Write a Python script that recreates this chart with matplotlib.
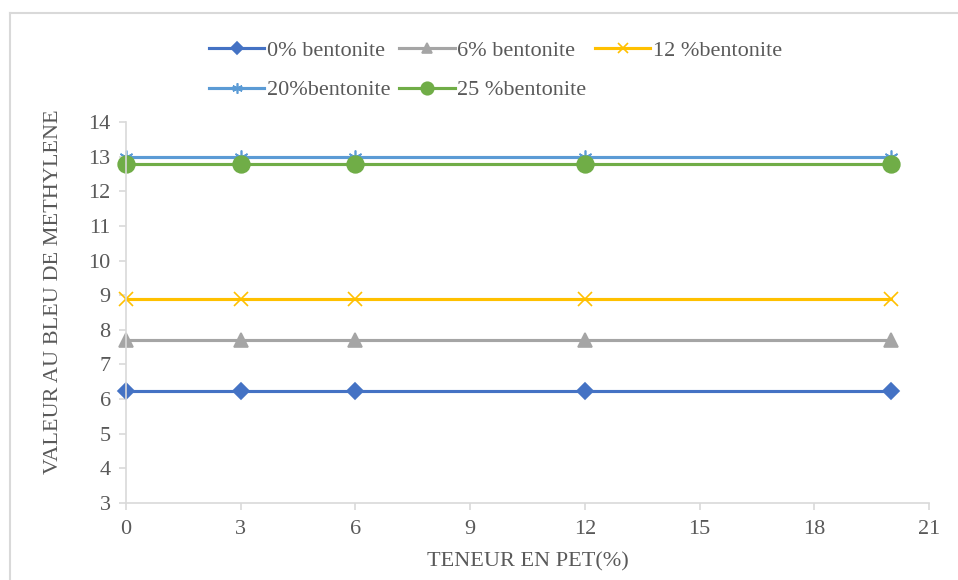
import matplotlib
matplotlib.use("Agg")
import matplotlib.pyplot as plt
from matplotlib.lines import Line2D

# data
pet = [0, 3, 6, 12, 20]
labels = ["0% bentonite", "6% bentonite", "12 %bentonite", "20%bentonite", "25 %bentonite"]
vals_0 = [6.22, 6.22, 6.22, 6.22, 6.22]
vals_6 = [7.7, 7.7, 7.7, 7.7, 7.7]
vals_12 = [8.9, 8.9, 8.9, 8.9, 8.9]
vals_20 = [13.0, 13.0, 13.0, 13.0, 13.0]
vals_25 = [12.8, 12.8, 12.8, 12.8, 12.8]

plt.rcParams['font.family'] = ['Liberation Serif', 'DejaVu Serif']

fig = plt.figure(figsize=(9.58, 5.8), dpi=100)
ax = fig.add_axes([0.1315, 0.1328, 0.8382, 0.6569])

txt = "#595959"
styles = [
    (vals_0, "#4472C4", "D", 8),
    (vals_6, "#A5A5A5", "^", 10),
    (vals_12, "#FFC000", "x", 10),
    (vals_20, "#5B9BD5", (6, 2, 0), 10),
    (vals_25, "#70AD47", "o", 12),
]
handles = []
for (vals, col, mk, ms), lab in zip(styles, labels):
    line, = ax.plot(pet, vals, color=col, lw=2.25, marker=mk, markersize=ms,
                    markeredgewidth=1.2, markeredgecolor=col, label=lab,
                    clip_on=False)
    handles.append(line)

ax.set_xlim(0, 21)
ax.set_ylim(3, 14)
ax.set_xticks(range(0, 22, 3))
ax.set_yticks(range(3, 15))
for s in ["top", "right"]:
    ax.spines[s].set_visible(False)
for s in ["left", "bottom"]:
    ax.spines[s].set_color("#D9D9D9")
    ax.spines[s].set_linewidth(1.2)
ax.tick_params(colors="#D9D9D9", labelcolor=txt, labelsize=16, length=5, width=1.2)
ax.tick_params(axis="x", pad=7)
ax.tick_params(axis="y", pad=6)
ax.set_xlabel("TENEUR EN PET(%)", fontsize=16, color=txt, labelpad=10)
ax.set_ylabel("VALEUR AU BLEU DE METHYLENE", fontsize=16, color=txt)
ax.yaxis.set_label_coords(-0.078, 0.554)

# reorder so rows read left to right
order = [0, 3, 1, 4, 2]
leg = fig.legend([handles[i] for i in order], [labels[i] for i in order],
                 ncol=3, loc="upper center", bbox_to_anchor=(0.517, 0.965),
                 frameon=False, fontsize=16, handlelength=2.5, columnspacing=0.4,
                 handletextpad=0.1, labelspacing=0.85, markerscale=0.75)
for t in leg.get_texts():
    t.set_color(txt)

# chart border (only left and top edges fall inside the image)
w, h = fig.get_size_inches() * fig.dpi
x0, y0 = 9.5 / w, 1 - 12.5 / h
fig.add_artist(Line2D([x0, x0], [0, y0], transform=fig.transFigure, color="#D9D9D9", lw=1.5))
fig.add_artist(Line2D([x0, 1], [y0, y0], transform=fig.transFigure, color="#D9D9D9", lw=1.5))

fig.savefig("out.png", dpi=100)
